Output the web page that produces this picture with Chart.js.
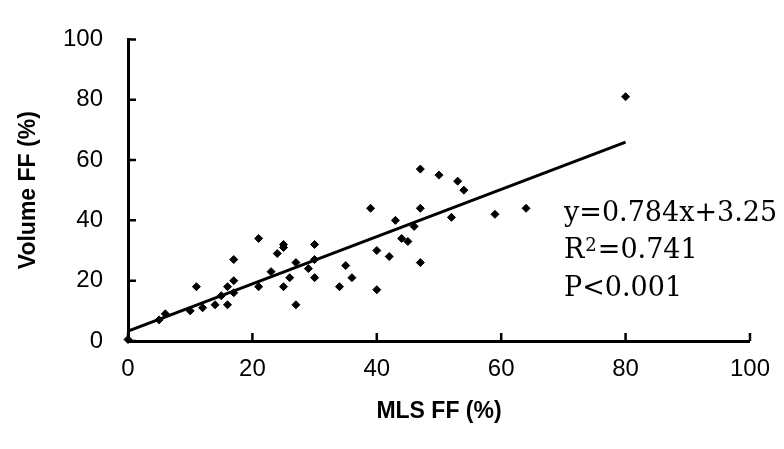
<!DOCTYPE html>
<html>
<head>
<meta charset="utf-8">
<script src="https://cdn.jsdelivr.net/npm/chart.js@4.4.0/dist/chart.umd.min.js"></script>
<style>
  html, body { margin: 0; padding: 0; background: #fff; }
  #wrap { width: 784px; height: 449px; }
</style>
</head>
<body>
<div id="wrap"><canvas id="chart" width="784" height="449"></canvas></div>
<script>
// MLS FF (%) vs Volume FF (%)
const mlsFF = [0, 5, 6, 10, 11, 12, 14, 15, 16, 16, 17, 17, 17, 21, 21, 23, 24, 25, 25, 25,
  26, 27, 27, 29, 30, 30, 30, 34, 35, 36, 39, 40, 40, 42, 43, 44, 45, 46, 47, 47,
  47, 50, 52, 53, 54, 59, 64, 80];
const volumeFF = [0.5, 7, 9, 10, 18, 11, 12, 15, 12, 18, 16, 20, 27, 34, 18, 23, 29, 32, 31, 18,
  21, 26, 12, 24, 32, 27, 21, 18, 25, 21, 44, 30, 17, 28, 40, 34, 33, 38, 57, 44,
  26, 55, 41, 53, 50, 42, 44, 81];

// fitted line y = 0.784x + 3.25, drawn between its ends
const fitX = [0, 80];
const fitY = [3.25, 65.97];

const axisTicks = [0, 20, 40, 60, 80, 100];
const statLines = ['y=0.784x+3.25', 'R\u00B2=0.741', 'P<0.001'];

const scatterPts = mlsFF.map((x, i) => ({ x: x, y: volumeFF[i] }));
const fitPts = fitX.map((x, i) => ({ x: x, y: fitY[i] }));

// tick marks point into the plot, like the original
const innerTicks = {
  id: 'innerTicks',
  afterDraw(chart) {
    const ctx = chart.ctx;
    const xs = chart.scales.x, ys = chart.scales.y;
    const area = chart.chartArea;
    ctx.save();
    ctx.strokeStyle = '#000';
    ctx.lineWidth = 2.5;
    ctx.beginPath();
    axisTicks.forEach(v => {
      const px = xs.getPixelForValue(v);
      ctx.moveTo(px, area.bottom);
      ctx.lineTo(px, area.bottom - 8);
      const py = ys.getPixelForValue(v);
      ctx.moveTo(area.left, py);
      ctx.lineTo(area.left + 8, py);
    });
    ctx.stroke();

    // regression stats, with a proper raised "2"
    ctx.fillStyle = '#000';
    ctx.textBaseline = 'alphabetic';
    const big = '27px "DejaVu Serif"', small = '18px "DejaVu Serif"';
    const tx = xs.getPixelForValue(70.1);
    const baseY = [221, 258, 296];
    statLines.forEach((s, i) => {
      let x = tx;
      s.split('\u00B2').forEach((part, j) => {
        if (j > 0) {
          ctx.font = small;
          ctx.fillText('2', x + 1, baseY[i] - 7);
          x += ctx.measureText('2').width + 2;
        }
        ctx.font = big;
        ctx.fillText(part, x, baseY[i]);
        x += ctx.measureText(part).width;
      });
    });
    ctx.restore();
  }
};

const tickFont = { family: '"Liberation Sans", Arial, sans-serif', size: 24 };
const titleFont = { family: '"Liberation Sans", Arial, sans-serif', size: 23, weight: 'bold' };

new Chart(document.getElementById('chart'), {
  type: 'scatter',
  data: {
    datasets: [
      {
        data: scatterPts,
        pointStyle: 'rectRot',
        pointRadius: 4,
        pointBackgroundColor: '#000',
        pointBorderColor: '#000',
        pointBorderWidth: 1,
        clip: false
      },
      {
        type: 'line',
        data: fitPts,
        borderColor: '#000',
        borderWidth: 3,
        pointRadius: 0,
        fill: false,
        clip: false
      }
    ]
  },
  options: {
    responsive: false,
    animation: false,
    layout: { padding: { top: 20, right: 33, left: 0, bottom: 0 } },
    plugins: { legend: { display: false }, tooltip: { enabled: false } },
    scales: {
      x: {
        type: 'linear', min: 0, max: 100,
        afterFit(scale) { scale.height = 108; },
        afterBuildTicks(scale) { scale.ticks = axisTicks.map(v => ({ value: v })); },
        grid: { display: false, drawTicks: false },
        border: { display: true, color: '#000', width: 3 },
        ticks: { color: '#000', font: tickFont, padding: 14, maxRotation: 0 },
        title: { display: true, text: 'MLS FF (%)', color: '#000', font: titleFont, padding: { top: 0, bottom: 24 } }
      },
      y: {
        type: 'linear', min: 0, max: 100,
        afterFit(scale) { scale.width = 128; },
        afterBuildTicks(scale) { scale.ticks = axisTicks.map(v => ({ value: v })); },
        grid: { display: false, drawTicks: false },
        border: { display: true, color: '#000', width: 3 },
        ticks: { color: '#000', font: tickFont, padding: 25 },
        title: { display: true, text: 'Volume FF (%)', color: '#000', font: titleFont, padding: { top: 15, bottom: 0 } }
      }
    }
  },
  plugins: [innerTicks]
});
</script>
</body>
</html>
